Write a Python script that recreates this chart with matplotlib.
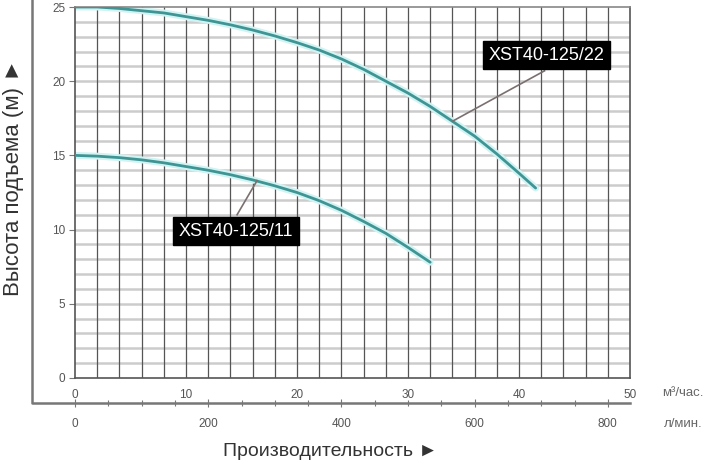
import matplotlib

matplotlib.use("Agg")

import matplotlib.pyplot as plt
from matplotlib.lines import Line2D
from matplotlib.ticker import MultipleLocator

plt.rcParams["font.family"] = ["Liberation Sans", "DejaVu Sans"]

# pump curves, flow in m3/h, head in m
flow_22 = [0, 2, 4, 6, 8, 10, 12, 14, 16, 18, 20, 22, 24, 26, 28, 30, 32, 34, 36, 38, 40, 41.5]
head_22 = [25.0, 25.0, 24.9, 24.75, 24.6, 24.35, 24.1, 23.8, 23.45, 23.05, 22.6,
           22.1, 21.5, 20.8, 20.0, 19.2, 18.3, 17.3, 16.3, 15.1, 13.8, 12.8]

flow_11 = [0, 2, 4, 6, 8, 10, 12, 14, 16, 18, 20, 22, 24, 26, 28, 30, 32]
head_11 = [15.0, 14.95, 14.85, 14.7, 14.5, 14.25, 14.0, 13.7, 13.35, 12.95, 12.5,
           11.95, 11.3, 10.55, 9.75, 8.8, 7.8]

labels = ["XST40-125/22", "XST40-125/11"]
label_pos = [(42.5, 21.75), (14.5, 9.9)]
arrow_from = [(42.3, 20.7), (14.6, 11.0)]
arrow_to = [(34.0, 17.3), (16.4, 13.3)]

x_ticks = [0, 10, 20, 30, 40, 50]
y_ticks = [0, 5, 10, 15, 20, 25]
lpm_ticks = [0, 200, 400, 600, 800]

fig = plt.figure(figsize=(7.14, 4.74), dpi=100)
ax = fig.add_axes([75 / 714, 1 - 378 / 474, 555 / 714, 371 / 474])

ax.set_xlim(0, 50)
ax.set_ylim(0, 25)

# grid: dark verticals every 2 m3/h, light horizontals every 1 m
for x in range(2, 50, 2):
    ax.axvline(x, color="#555555", lw=0.9, zorder=1)
for y in range(1, 25):
    ax.axhline(y, color="#cccccc", lw=1.8, zorder=0.5)

for flow, head in [(flow_22, head_22), (flow_11, head_11)]:
    ax.plot(flow, head, color="#d2f3f3", lw=5, solid_capstyle="round", zorder=2)
    ax.plot(flow, head, color="#3f9494", lw=2, solid_capstyle="round", zorder=3)

for text, pos, p0, p1 in zip(labels, label_pos, arrow_from, arrow_to):
    ax.plot([p0[0], p1[0]], [p0[1], p1[1]], color="#7a7070", lw=1.2, zorder=4)
    ax.text(pos[0], pos[1], text, ha="center", va="center", color="white",
            fontsize=13, zorder=5,
            bbox=dict(boxstyle="square,pad=0.3", facecolor="black", edgecolor="black"))

for side in ["left", "right", "bottom", "top"]:
    ax.spines[side].set_color("#555555")
    ax.spines[side].set_linewidth(1.2)
ax.spines["top"].set_color("#888888")

ax.set_xticks(x_ticks)
ax.set_yticks(y_ticks)
ax.tick_params(axis="x", length=0, pad=8, labelsize=8.5, labelcolor="#555555")
ax.tick_params(axis="y", length=4, width=0.8, color="#777777", pad=3,
               labelsize=8.5, labelcolor="#555555")

# second flow scale in l/min
sec = ax.secondary_xaxis(-25 / 371, functions=(lambda q: q * 1000 / 60,
                                                 lambda q: q * 60 / 1000))
sec.set_xticks(lpm_ticks)
sec.xaxis.set_minor_locator(MultipleLocator(50))
sec.spines["bottom"].set_visible(False)
sec.tick_params(axis="x", which="major", direction="inout", length=6, width=0.8,
                color="#777777", pad=8, labelsize=8.5, labelcolor="#555555")
sec.tick_params(axis="x", which="minor", direction="inout", length=5, width=0.8,
                color="#777777")

# outer L-shaped frame
fig.add_artist(Line2D([32 / 714, 32 / 714, 630 / 714], [1.0, 1 - 403 / 474, 1 - 403 / 474],
                      color="#777777", lw=1.8))

fig.text(683 / 714, 1 - 393 / 474, "м³/час.", ha="center", va="center",
         fontsize=9.5, color="#666666")
fig.text(683 / 714, 1 - 424 / 474, "л/мин.", ha="center", va="center",
         fontsize=9.5, color="#666666")

fig.text(330 / 714, 1 - 451 / 474, "Производительность ►", ha="center", va="center",
         fontsize=14, color="#333333")
fig.text(14 / 714, 1 - 177 / 474, "Высота подъема (м) ►", ha="center", va="center",
         rotation=90, fontsize=16, color="#333333")

fig.savefig("out.png", dpi=100)
plt.close(fig)
